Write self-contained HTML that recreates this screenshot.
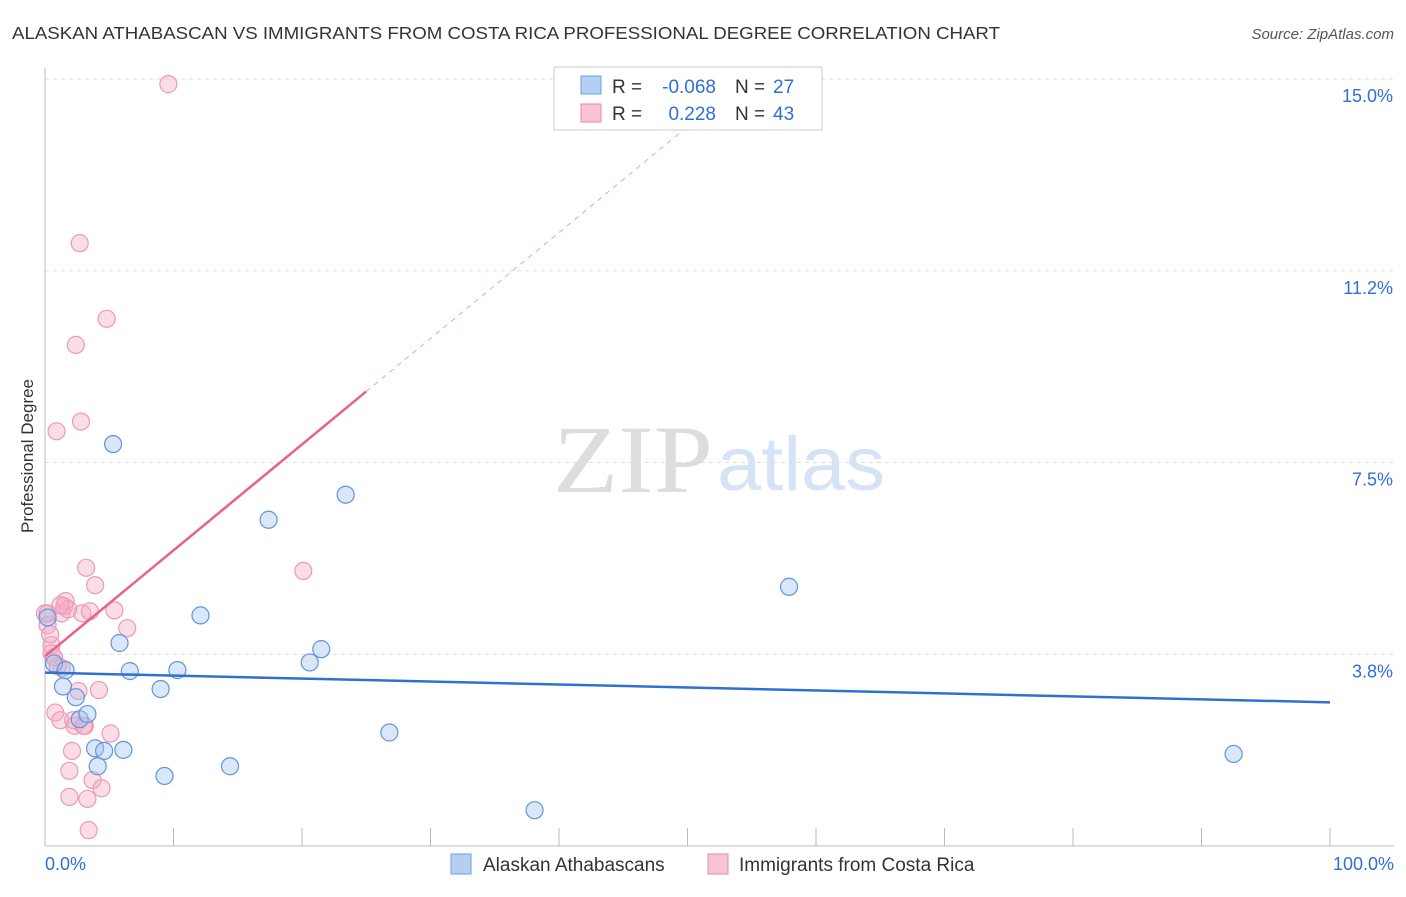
<!DOCTYPE html>
<html><head><meta charset="utf-8"><style>
body{margin:0;background:#fff;font-family:"Liberation Sans",sans-serif;}
svg text{font-family:"Liberation Sans",sans-serif;}
</style></head><body>
<svg id="chart" width="1406" height="892" viewBox="0 0 1406 892">
<text x="12" y="39" font-size="17.5" fill="#333" textLength="988" lengthAdjust="spacingAndGlyphs">ALASKAN ATHABASCAN VS IMMIGRANTS FROM COSTA RICA PROFESSIONAL DEGREE CORRELATION CHART</text>
<text x="1394" y="39" font-size="15" fill="#555" text-anchor="end" font-style="italic">Source: ZipAtlas.com</text>
<text transform="translate(33,456) rotate(-90)" font-size="17" fill="#333" text-anchor="middle">Professional Degree</text>
<text x="553" y="492" font-size="96" fill="#ddd" textLength="160" lengthAdjust="spacingAndGlyphs" style="font-family:'Liberation Serif',serif">ZIP</text>
<text x="717" y="490" font-size="76" fill="#d5e3f5" textLength="168" lengthAdjust="spacingAndGlyphs">atlas</text>
<g id="grid"></g><g id="axes"></g><g id="marks"></g>
<g>
<rect x="554" y="67" width="268" height="63" fill="#fff" stroke="#ccc"/>
<rect x="581" y="76" width="20" height="18" fill="#b3cff3" stroke="#6a9fe0"/>
<rect x="581" y="104" width="20" height="18" fill="#f8c3d2" stroke="#e98aa8"/>
<text x="612" y="93" font-size="19" fill="#333">R =</text>
<text x="716" y="93" font-size="19" fill="#2f6fd6" text-anchor="end">-0.068</text>
<text x="735" y="93" font-size="19" fill="#333">N =</text>
<text x="773" y="93" font-size="19" fill="#2f6fd6">27</text>
<text x="612" y="120" font-size="19" fill="#333">R =</text>
<text x="716" y="120" font-size="19" fill="#2f6fd6" text-anchor="end">0.228</text>
<text x="735" y="120" font-size="19" fill="#333">N =</text>
<text x="773" y="120" font-size="19" fill="#2f6fd6">43</text>
</g>
<g>
<rect x="451" y="854" width="20" height="20" fill="#b3cff3" stroke="#6a9fe0"/>
<text x="483" y="871" font-size="19" fill="#333">Alaskan Athabascans</text>
<rect x="708" y="854" width="20" height="20" fill="#f8c3d2" stroke="#e98aa8"/>
<text x="739" y="871" font-size="19" fill="#333">Immigrants from Costa Rica</text>
</g>
</svg>
<script>
const yTicks=[3.75,7.5,11.25,15];
const yTickLabels=["3.8%","7.5%","11.2%","15.0%"];
const xTicks=[0,10,20,30,40,50,60,70,80,90,100];
const blueX=[0.2,0.7,1.4,1.6,2.4,2.7,3.3,3.9,4.1,4.6,5.3,5.8,6.1,6.6,9.0,9.3,10.3,12.1,14.4,17.4,20.6,21.5,23.4,26.8,38.1,57.9,92.5];
const blueY=[4.47,3.57,3.12,3.44,2.91,2.48,2.58,1.91,1.56,1.86,7.86,3.97,1.88,3.42,3.07,1.37,3.44,4.51,1.56,6.38,3.59,3.85,6.87,2.22,0.70,5.07,1.80];
const pinkX=[0,0.2,0.5,0.5,0.8,0.9,1.0,1.2,1.3,1.5,1.6,1.9,1.9,2.1,2.3,2.4,2.6,2.7,2.8,2.9,3.1,3.2,3.3,3.4,3.5,3.7,3.9,4.2,4.4,4.8,5.1,5.4,6.4,9.6,20.1,1.3,1.8,2.2,0.4,0.2,0.7,1.2,3.0];
const pinkY=[4.55,4.32,3.93,3.77,2.61,8.11,3.52,2.46,4.55,4.69,4.79,1.47,0.96,1.86,2.35,9.80,3.03,11.79,8.30,4.55,2.35,5.44,0.92,0.31,4.59,1.29,5.10,3.05,1.13,10.31,2.20,4.61,4.26,14.90,5.38,3.48,4.63,2.46,4.14,4.55,3.69,4.71,2.35];
const trendBlue=[3.39,2.81];
const trendPink=[3.71,8.89];
const NS="http://www.w3.org/2000/svg";
const X=v=>45+v/100*1285, Y=v=>846-v/3.75*191.75;
function mk(t,a,p){const e=document.createElementNS(NS,t);for(const k in a)e.setAttribute(k,a[k]);p.appendChild(e);return e;}
const grid=document.getElementById('grid'),axes=document.getElementById('axes'),marks=document.getElementById('marks');
yTicks.forEach((t,i)=>{
 const l=mk('line',{x1:45,x2:1394,y1:Y(t),y2:Y(t),stroke:'#ddd','stroke-dasharray':'4,4'},grid);
 
 
 const tx=mk('text',{x:1393,y:Y(t)+23,'font-size':18,fill:'#2f6fd6','text-anchor':'end'},axes);
 tx.textContent=yTickLabels[i];
 
 
});
const al=mk('line',{x1:45,x2:1394,y1:846,y2:846,stroke:'#bbb'},axes);


const yl=mk('line',{x1:45,x2:45,y1:68,y2:846,stroke:'#bbb'},axes);


xTicks.forEach(t=>{const l=mk('line',{x1:X(t),x2:X(t),y1:828,y2:846,stroke:'#bbb'},axes);
 
 });
[[0,'0.0%','start',45],[100,'100.0%','end',1394]].forEach(a=>{const t=mk('text',{x:a[3],y:870,'font-size':18,fill:'#2f6fd6','text-anchor':a[2]},axes);t.textContent=a[1];
 
 });
pinkX.forEach((v,i)=>{const c=mk('circle',{cx:X(v),cy:Y(pinkY[i]),r:8.5,fill:'rgba(244,170,195,0.4)',stroke:'#ec9ab4','stroke-width':1.2},marks);
 
 });
blueX.forEach((v,i)=>{const c=mk('circle',{cx:X(v),cy:Y(blueY[i]),r:8.5,fill:'rgba(160,195,240,0.4)',stroke:'#5f95dc','stroke-width':1.2},marks);
 
 });
const bt=mk('line',{x1:X(0),y1:Y(trendBlue[0]),x2:X(100),y2:Y(trendBlue[1]),stroke:'#2f6fd6','stroke-width':2.5},marks);


const ps=(trendPink[1]-trendPink[0])/25;
const pt=mk('line',{x1:X(0),y1:Y(trendPink[0]),x2:X(25),y2:Y(trendPink[1]),stroke:'#e8608e','stroke-width':2.5},marks);


const pd=mk('line',{x1:X(25),y1:Y(trendPink[1]),x2:X(54),y2:Y(trendPink[0]+ps*54),stroke:'#eaa0b8','stroke-width':1,'stroke-dasharray':'5,5'},marks);


</script>
</body></html>
